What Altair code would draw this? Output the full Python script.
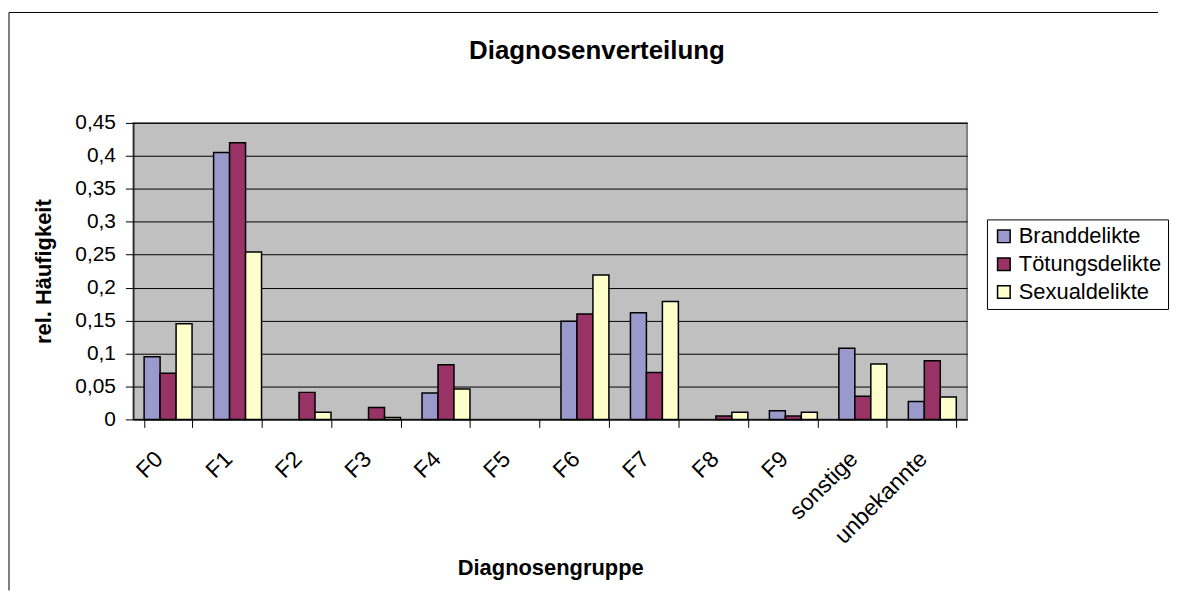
import altair as alt
import pandas as pd

# ---- data ----
categories = ["F0", "F1", "F2", "F3", "F4", "F5", "F6", "F7", "F8", "F9", "sonstige", "unbekannte"]
series = ["Branddelikte", "Tötungsdelikte", "Sexualdelikte"]
brand = [0.095, 0.405, 0.0, 0.0, 0.040, 0.0, 0.149, 0.162, 0.0, 0.013, 0.108, 0.027]
toetung = [0.070, 0.420, 0.041, 0.018, 0.083, 0.0, 0.160, 0.071, 0.005, 0.005, 0.035, 0.089]
sexual = [0.145, 0.254, 0.011, 0.003, 0.046, 0.0, 0.219, 0.179, 0.011, 0.011, 0.084, 0.034]
colors = ["#9999CC", "#993366", "#FFFFCC"]
y_ticks = [0, 0.05, 0.1, 0.15, 0.2, 0.25, 0.3, 0.35, 0.4, 0.45]

rows = []
for s, vals in zip(series, [brand, toetung, sexual]):
    for c, v in zip(categories, vals):
        if v > 0:
            rows.append({"Diagnosengruppe": c, "Delikt": s, "Wert": v})
df = pd.DataFrame(rows)

FONT = "Liberation Sans"
W, H = 838, 298

bars = alt.Chart(df).mark_bar(stroke="black", strokeWidth=1.5).encode(
    x=alt.X("Diagnosengruppe:N", sort=categories,
            scale=alt.Scale(domain=categories, paddingInner=0.31, paddingOuter=0.155),
            axis=alt.Axis(title="Diagnosengruppe", labelAngle=315, tickBand="extent",
                          tickSize=8, labelPadding=20, labelOffset=-17, labelFontSize=23,
                          titleFontSize=22, titleFontWeight="bold", titlePadding=10,
                          grid=False)),
    xOffset=alt.XOffset("Delikt:N", sort=series,
                        scale=alt.Scale(domain=series, paddingInner=0, paddingOuter=0)),
    y=alt.Y("Wert:Q", scale=alt.Scale(domain=[0, 0.45], nice=False),
            axis=alt.Axis(title="rel. Häufigkeit", values=y_ticks,
                          labelExpr="replace(format(datum.value, '.2~f'), '.', ',')",
                          tickSize=8, labelPadding=10, labelFontSize=21, titleFontSize=22,
                          titleFontWeight="bold", titlePadding=19, grid=True,
                          gridColor="black", gridWidth=1)),
    fill=alt.Fill("Delikt:N", sort=series,
                  scale=alt.Scale(domain=series, range=colors),
                  legend=alt.Legend(title=None, orient="none", legendX=858, legendY=97,
                                    symbolType="square", symbolSize=160,
                                    symbolStrokeColor="black", symbolStrokeWidth=1.5,
                                    labelFontSize=22, labelOffset=4, rowPadding=6,
                                    padding=6, strokeColor="black", fillColor="white")),
)

frame = alt.Data(values=[{"k": 1}])
left_border = alt.Chart(frame).mark_rule(color="black", strokeWidth=1).encode(
    x=alt.value(-125), y=alt.value(-111), y2=alt.value(470))
top_border = alt.Chart(frame).mark_rule(color="black", strokeWidth=1).encode(
    x=alt.value(-125), x2=alt.value(1030), y=alt.value(-111))

chart = alt.layer(bars, left_border, top_border).properties(
    width=W, height=H,
    padding={"left": 0, "top": 2, "right": 0, "bottom": 0},
    title=alt.Title("Diagnosenverteilung", fontSize=26, fontWeight="bold", font=FONT,
                    anchor="middle", offset=-52, dx=47, color="black"),
).configure(font=FONT, background="white").configure_view(
    fill="#C0C0C0", stroke="#808080", strokeWidth=2
).configure_axis(
    labelColor="black", titleColor="black", tickColor="black", domainColor="black",
    labelFont=FONT, titleFont=FONT, domainWidth=1, tickWidth=1
).configure_legend(
    labelColor="black", labelFont=FONT, cornerRadius=0
)

chart.save("out.html", embed_options={"renderer": "svg", "actions": False})
